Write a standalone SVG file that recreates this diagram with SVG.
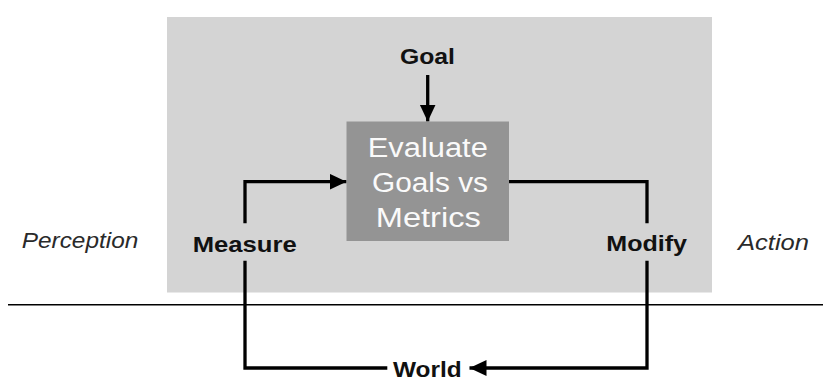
<svg xmlns="http://www.w3.org/2000/svg" width="823" height="389" viewBox="0 0 823 389">
<style>
text{font-family:"Liberation Sans",Arial,Helvetica,sans-serif;}
.lbl{font-weight:bold;font-size:22px;fill:#111;text-anchor:middle;}
.side{font-style:italic;font-size:22px;fill:#2a2a2a;text-anchor:middle;}
.box{font-size:27px;fill:#fafafa;text-anchor:middle;}
.conn{fill:none;stroke:#000;stroke-width:3.3;stroke-linejoin:miter;}
</style>
<defs>
<marker id="ah" markerUnits="userSpaceOnUse" markerWidth="18" markerHeight="17" refX="17" refY="8" orient="auto">
<path d="M0,0 L17,8 L0,16 z" fill="#000"/>
</marker>
</defs>
<rect width="823" height="389" fill="#fff"/>
<g id="region">
<rect x="167" y="17" width="545" height="275.5" fill="#d4d4d4"/>
</g>
<g id="ground">
<line x1="8" y1="304.7" x2="823" y2="304.7" stroke="#000" stroke-width="1.6"/>
</g>
<g id="connectors">
<path class="conn" d="M427.7,75 V121.5" marker-end="url(#ah)"/>
<path class="conn" d="M245,223.3 V181.7 H346.5" marker-end="url(#ah)"/>
<path class="conn" d="M245,260.7 V368 H387.3"/>
<path class="conn" d="M509,181.7 H647 V223.3"/>
<path class="conn" d="M647,260.7 V368 H469.5" marker-end="url(#ah)"/>
</g>
<g id="evaluate">
<rect x="346.5" y="121.5" width="162.5" height="119.5" fill="#949494"/>
<text class="box" x="427.8" y="156.7" textLength="120" lengthAdjust="spacingAndGlyphs">Evaluate</text>
<text class="box" x="430" y="192" textLength="116" lengthAdjust="spacingAndGlyphs">Goals vs</text>
<text class="box" x="428.3" y="227" textLength="105" lengthAdjust="spacingAndGlyphs">Metrics</text>
</g>
<g id="goal">
<text class="lbl" x="427.5" y="64" font-size="21" textLength="55" lengthAdjust="spacingAndGlyphs">Goal</text>
</g>
<g id="measure">
<text class="lbl" x="244.7" y="251.7" textLength="104" lengthAdjust="spacingAndGlyphs">Measure</text>
</g>
<g id="modify">
<text class="lbl" x="646.7" y="251" textLength="80.7" lengthAdjust="spacingAndGlyphs">Modify</text>
</g>
<g id="world">
<text class="lbl" x="427.3" y="376.7" textLength="68.7" lengthAdjust="spacingAndGlyphs">World</text>
</g>
<g id="perception">
<text class="side" x="80" y="248.3" textLength="116.6" lengthAdjust="spacingAndGlyphs">Perception</text>
</g>
<g id="action">
<text class="side" x="773.5" y="250" textLength="71" lengthAdjust="spacingAndGlyphs">Action</text>
</g>
</svg>
